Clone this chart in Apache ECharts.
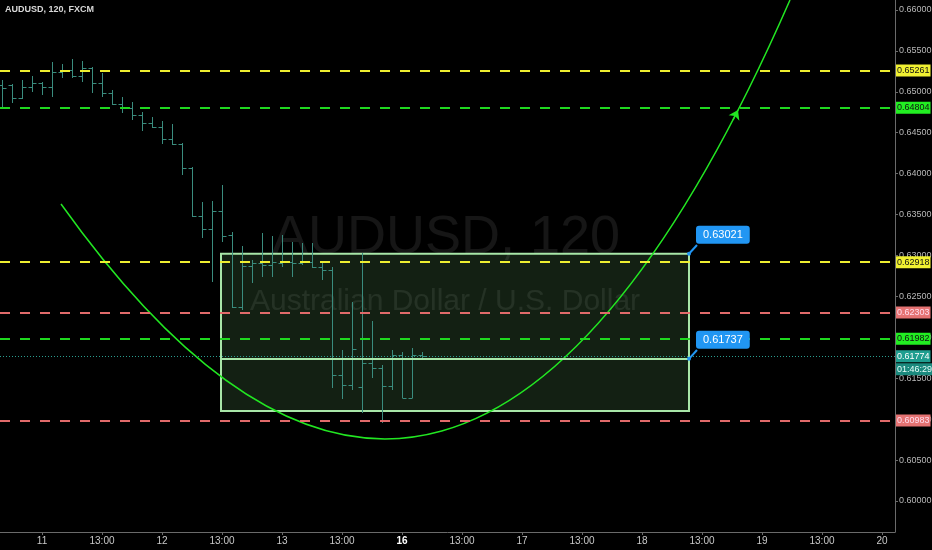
<!DOCTYPE html>
<html><head><meta charset="utf-8">
<script src="https://cdn.jsdelivr.net/npm/echarts@6/dist/echarts.min.js"></script>
<style>html,body{margin:0;padding:0;background:#000;overflow:hidden}#c{width:932px;height:550px}</style>
</head><body><div id="c"></div><script>
// ---- data ----
const barOpen  = [0.65084,0.65084,0.64925,0.65059,0.65108,0.65059,0.65243,0.65267,0.65194,0.65291,0.65108,0.64986,0.64852,0.64803,0.64717,0.64619,0.64571,0.64424,0.64363,0.64069,0.63483,0.63324,0.63544,0.63251,0.62371,0.62872,0.62908,0.62884,0.62908,0.62921,0.62908,0.62921,0.62860,0.62823,0.61540,0.61418,0.61393,0.61686,0.61625,0.61405,0.61784,0.61259,0.61784];
const barHigh  = [0.65145,0.65090,0.65145,0.65194,0.65120,0.65365,0.65340,0.65401,0.65377,0.65300,0.65230,0.65023,0.64937,0.64876,0.64754,0.64693,0.64644,0.64607,0.64375,0.64080,0.63654,0.63666,0.63862,0.63287,0.63116,0.62945,0.63275,0.63238,0.63251,0.63165,0.63153,0.63153,0.62908,0.62860,0.61845,0.62432,0.63031,0.62200,0.61662,0.61845,0.61821,0.61870,0.61821];
const barLow   = [0.64803,0.64864,0.64913,0.64998,0.64961,0.64937,0.65169,0.65169,0.65120,0.64986,0.64937,0.64839,0.64742,0.64656,0.64522,0.64558,0.64363,0.64350,0.63984,0.63471,0.63214,0.62676,0.63165,0.62359,0.62334,0.62664,0.62737,0.62737,0.62860,0.62737,0.62884,0.62847,0.62701,0.61381,0.61246,0.61356,0.61075,0.61503,0.60953,0.61356,0.61259,0.61259,0.61748];
const barClose = [0.65047,0.64925,0.65059,0.65108,0.65059,0.65243,0.65267,0.65194,0.65291,0.65108,0.64986,0.64852,0.64803,0.64717,0.64619,0.64571,0.64424,0.64363,0.64069,0.63483,0.63324,0.63544,0.63238,0.62371,0.62872,0.62908,0.62884,0.62921,0.62921,0.62908,0.62921,0.62860,0.62823,0.61540,0.61418,0.61857,0.61686,0.61625,0.61405,0.61784,0.61259,0.61784,0.61774];

const timeTickPos    = [4, 10, 16, 22, 28, 34, 40, 46, 52, 58, 64, 70, 76, 82, 88];
const timeTickLabels = ['11','13:00','12','13:00','13','13:00','16','13:00','17','13:00','18','13:00','19','13:00','20'];
const priceTicks = [0.600,0.605,0.610,0.615,0.620,0.625,0.630,0.635,0.640,0.645,0.650,0.655,0.660];

// curve drawing (quadratic curve: start, control, end) in [bar, price]
const curveStart   = [5.9, 0.63629];
const curveControl = [45.6, 0.56835];
const curveEnd     = [78.8, 0.66122];

const levelPrices = [0.65261, 0.64804, 0.62918, 0.62303, 0.61982, 0.60983];
const levelKinds  = ['yellow','green','yellow','red','green','red'];
const lastPrice = 0.61774;
const countdown = '01:46:29';

const boxStart = 21.9, boxEnd = 68.7;
const boxTop = 0.63021, boxMid = 0.61737, boxBottom = 0.61100;

// ---- styles ----
const FONT = '"Liberation Sans",Arial,sans-serif';
const kindStyle = {
  yellow: {line:'#eeee30', bg:'#f0f032', fg:'#111'},
  green:  {line:'#1fd81f', bg:'#22ee22', fg:'#111'},
  red:    {line:'#e06a6a', bg:'#e57373', fg:'#fde'}
};
const barColor = '#3a8c7e';
const curveColor = '#22e622';

const chart = echarts.init(document.getElementById('c'), null, {renderer:'canvas'});

function renderOHLC(params, api){
  const i = api.value(0);
  const pH = api.coord([i, api.value(2)]);
  const pL = api.coord([i, api.value(3)]);
  const pO = api.coord([i, api.value(1)]);
  const pC = api.coord([i, api.value(4)]);
  const half = api.size([1, 0])[0] * 0.4;
  const r = v => Math.round(v) + 0.5;
  const x = r(pH[0]);
  const st = {stroke: barColor, lineWidth: 1};
  return {type:'group', children:[
    {type:'line', shape:{x1:x, y1:Math.round(pH[1]), x2:x, y2:Math.round(pL[1])}, style:st},
    {type:'line', shape:{x1:x-half, y1:r(pO[1]), x2:x, y2:r(pO[1])}, style:st},
    {type:'line', shape:{x1:x, y1:r(pC[1]), x2:x+half, y2:r(pC[1])}, style:st}
  ]};
}

function renderCurve(params, api){
  const a = api.coord([api.value(0), api.value(1)]);
  const c = api.coord([api.value(2), api.value(3)]);
  const b = api.coord([api.value(4), api.value(5)]);
  return {type:'bezierCurve',
    shape:{x1:a[0], y1:a[1], cpx1:c[0], cpy1:c[1], x2:b[0], y2:b[1]},
    style:{stroke: curveColor, lineWidth:1.5, fill:null}};
}

const levelLines = levelPrices.map((p, i) => {
  const s = kindStyle[levelKinds[i]];
  return {
    yAxis: p,
    lineStyle: {color: s.line, width: 2, type: [10, 10]},
    label: {show:true, position:'end', distance:1, formatter: p.toFixed(5),
      backgroundColor: s.bg, color: s.fg, padding:[2,1,1,1], fontSize:9, fontFamily: FONT}
  };
});
levelLines.push({
  yAxis: lastPrice,
  lineStyle: {color:'#2a9d8f', width:1, type:[1,2]},
  label: {show:true, position:'end', distance:1, offset:[0,7],
    formatter: '{a|' + lastPrice.toFixed(5) + '}\n{b|' + countdown + '}',
    rich: {
      a: {backgroundColor:'#1f9e90', color:'#fff', padding:[2,1,1,1], fontSize:9, fontFamily:FONT, lineHeight:13},
      b: {backgroundColor:'#1b8a7e', color:'#e8fffa', padding:[2,1,1,1], fontSize:9, fontFamily:FONT, lineHeight:13}
    }}
});
levelLines.push([
  {coord:[boxStart, boxMid], lineStyle:{color:'#a8e6a8', width:2, type:'solid'}, label:{show:false}},
  {coord:[boxEnd, boxMid]}
]);
levelLines.push([
  {coord:[boxEnd, boxTop], lineStyle:{color:'#2196f3', width:2, type:'solid'}, label:{show:false}},
  {coord:[69.5, 0.63128]}
]);
levelLines.push([
  {coord:[boxEnd, boxMid], lineStyle:{color:'#2196f3', width:2, type:'solid'}, label:{show:false}},
  {coord:[69.5, 0.61845]}
]);
levelLines.push([
  {coord:[73.1, 0.64656], symbol:'none', lineStyle:{color:curveColor, width:1.5, type:'solid'}, label:{show:false}},
  {coord:[73.6, 0.64778], symbol:'arrow', symbolSize:9}
]);

const calloutLabel = (txt) => ({show:true, formatter: txt, position:[9,-26],
  backgroundColor:'#2196f3', color:'#fff', padding:[4,7,3,7], borderRadius:3, fontSize:11, fontFamily:FONT});

const option = {
  backgroundColor: '#000',
  animation: false,
  grid: {left:0, right:37, top:0, bottom:18, containLabel:false, outerBoundsMode:'none'},
  xAxis: {
    type:'value', min:-0.2, max:89.3,
    axisLine:{show:true, onZero:false, lineStyle:{color:'#6a6a6a', width:1}},
    axisTick:{show:true, customValues: timeTickPos, length:3, lineStyle:{color:'#6a6a6a'}},
    axisLabel:{show:true, customValues: timeTickPos, margin:4, color:'#c8c8c8', fontSize:10, fontFamily:FONT,
      formatter: v => {
        const idx = timeTickPos.indexOf(Math.round(v));
        const t = idx >= 0 ? timeTickLabels[idx] : '';
        return t === '16' ? '{b|' + t + '}' : t;
      },
      rich:{b:{fontWeight:'bold', color:'#fff', fontSize:10, fontFamily:FONT}}},
    splitLine:{show:false}
  },
  yAxis: {
    type:'value', position:'right', min:0.59621, max:0.66122, scale:true,
    axisLine:{show:true, onZero:false, lineStyle:{color:'#6a6a6a', width:1}},
    axisTick:{show:true, customValues: priceTicks, length:3, lineStyle:{color:'#6a6a6a'}},
    axisLabel:{show:true, customValues: priceTicks, margin:4, color:'#b8b8b8', fontSize:9, fontFamily:FONT,
      formatter: v => v.toFixed(5)},
    splitLine:{show:false}
  },
  graphic: [
    {type:'text', z:0, x:446, y:238, style:{text:'AUDUSD, 120', font:'54px "Liberation Sans",Arial,sans-serif',
      fill:'rgba(255,255,255,0.085)', align:'center', verticalAlign:'middle'}},
    {type:'text', z:0, x:445, y:302, style:{text:'Australian Dollar / U.S. Dollar', font:'30px "Liberation Sans",Arial,sans-serif',
      fill:'rgba(255,255,255,0.085)', align:'center', verticalAlign:'middle'}},
    {type:'text', z:10, x:5, y:5, style:{text:'AUDUSD, 120, FXCM', font:'bold 9px ' + FONT, fill:'#d8d8d8'}}
  ],
  series: [
    {
      name:'box', type:'line', data:[], silent:true, z:1,
      markArea: {silent:true,
        itemStyle:{color:'rgba(120,200,120,0.16)', borderColor:'#a8e6a8', borderWidth:2},
        data:[[{coord:[boxStart, boxTop]}, {coord:[boxEnd, boxBottom]}]]}
    },
    {
      name:'AUDUSD', type:'custom', z:3,
      renderItem: renderOHLC,
      encode:{x:0, y:[1,2,3,4]},
      data: barOpen.map((o, i) => [i, o, barHigh[i], barLow[i], barClose[i]])
    },
    {
      name:'curve', type:'custom', z:4, clip:true, silent:true,
      renderItem: renderCurve,
      encode:{x:[0,4], y:[1,5]},
      data: [[curveStart[0], curveStart[1], curveControl[0], curveControl[1], curveEnd[0], curveEnd[1]]],
      markLine: {silent:true, precision:5, symbol:['none','none'], animation:false, data: levelLines},
      markPoint: {silent:true, symbol:'circle', symbolSize:4, itemStyle:{color:'#2196f3'},
        data:[
          {coord:[boxEnd, boxTop], label: calloutLabel(boxTop.toFixed(5))},
          {coord:[boxEnd, boxMid], label: calloutLabel(boxMid.toFixed(5))}
        ]}
    }
  ]
};
chart.setOption(option);
</script></body></html>
